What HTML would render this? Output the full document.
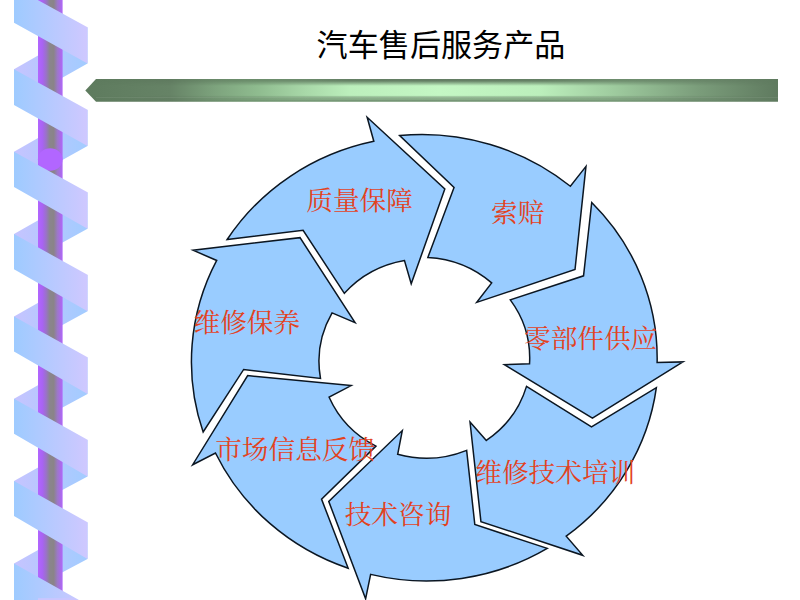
<!DOCTYPE html>
<html lang="zh"><head><meta charset="utf-8"><title>汽车售后服务产品</title>
<style>
html,body{margin:0;padding:0;background:#fff}
body{width:800px;height:600px;position:relative;overflow:hidden;font-family:"Liberation Sans",sans-serif}
.t{position:absolute;white-space:nowrap;color:#e2431f;line-height:1;font-family:"Liberation Serif","Noto Serif CJK SC",serif}
</style></head><body>
<svg width="800" height="600" viewBox="0 0 800 600" style="position:absolute;left:0;top:0">
<defs>
<linearGradient id="gf" x1="14" x2="87.5" y1="0" y2="0" gradientUnits="userSpaceOnUse"><stop offset="0" stop-color="#9ecbff"/><stop offset="1" stop-color="#cfc8ff"/></linearGradient>
<linearGradient id="gb" x1="14" x2="87.5" y1="0" y2="0" gradientUnits="userSpaceOnUse"><stop offset="0" stop-color="#c6c4ff"/><stop offset="1" stop-color="#a2ccff"/></linearGradient>
<linearGradient id="gp" x1="38" x2="62.6" y1="0" y2="0" gradientUnits="userSpaceOnUse"><stop offset="0" stop-color="#b266ff"/><stop offset="0.18" stop-color="#a963f3"/><stop offset="0.33" stop-color="#9a72c8"/><stop offset="0.48" stop-color="#8a858c"/><stop offset="0.64" stop-color="#8a8488"/><stop offset="0.79" stop-color="#9c78c8"/><stop offset="0.91" stop-color="#a96ae8"/><stop offset="1" stop-color="#b068f8"/></linearGradient>
<linearGradient id="gg" x1="85.5" x2="778" y1="0" y2="0" gradientUnits="userSpaceOnUse"><stop offset="0.0000" stop-color="#5e7b5e"/><stop offset="0.1220" stop-color="#668366"/><stop offset="0.1870" stop-color="#7da37d"/><stop offset="0.2520" stop-color="#90bd90"/><stop offset="0.3170" stop-color="#a8d8a8"/><stop offset="0.3819" stop-color="#bcefbc"/><stop offset="0.5119" stop-color="#c4f7c4"/><stop offset="0.6563" stop-color="#bcefbc"/><stop offset="0.7574" stop-color="#a0cda0"/><stop offset="0.8874" stop-color="#7a9c7a"/><stop offset="1.0000" stop-color="#5f7a5f"/></linearGradient>
<linearGradient id="gv" x1="0" x2="0" y1="79.1" y2="101.7" gradientUnits="userSpaceOnUse"><stop offset="0" stop-color="#000" stop-opacity="0.5"/><stop offset="0.08" stop-color="#000" stop-opacity="0.48"/><stop offset="0.30" stop-color="#000" stop-opacity="0"/><stop offset="0.72" stop-color="#000" stop-opacity="0"/><stop offset="0.80" stop-color="#000" stop-opacity="0.27"/><stop offset="0.90" stop-color="#000" stop-opacity="0.30"/><stop offset="0.97" stop-color="#000" stop-opacity="0.44"/><stop offset="1" stop-color="#000" stop-opacity="0.38"/></linearGradient>
<linearGradient id="gm" x1="85.5" x2="778" y1="0" y2="0" gradientUnits="userSpaceOnUse"><stop offset="0" stop-color="#000"/><stop offset="0.12" stop-color="#1c1c1c"/><stop offset="0.25" stop-color="#808080"/><stop offset="0.38" stop-color="#f0f0f0"/><stop offset="0.5" stop-color="#fff"/><stop offset="0.66" stop-color="#f0f0f0"/><stop offset="0.76" stop-color="#a0a0a0"/><stop offset="0.89" stop-color="#444"/><stop offset="1" stop-color="#000"/></linearGradient>
<mask id="bm" maskUnits="userSpaceOnUse" x="80" y="75" width="705" height="30"><rect x="80" y="75" width="705" height="30" fill="url(#gm)"/></mask>
</defs>
<path d="M87.5 -55.2 L87.5 -19.1 L14.0 22.7 L14.0 -13.0 Z M87.5 27.3 L87.5 63.5 L14.0 104.9 L14.0 69.3 Z M87.5 109.8 L87.5 146.1 L14.0 187.1 L14.0 151.7 Z M87.5 192.3 L87.5 228.7 L14.0 269.3 L14.0 234.0 Z M87.5 274.8 L87.5 311.3 L14.0 351.5 L14.0 316.4 Z M87.5 357.3 L87.5 393.9 L14.0 433.7 L14.0 398.8 Z M87.5 439.8 L87.5 476.5 L14.0 515.9 L14.0 481.1 Z M87.5 522.3 L87.5 559.1 L14.0 598.1 L14.0 563.4 Z M87.5 604.8 L87.5 650.0 L14.0 680.3 L14.0 645.8 Z" fill="url(#gb)"/>
<rect x="38" y="0" width="24.6" height="600" fill="url(#gp)"/>
<ellipse cx="50.2" cy="159.5" rx="12.3" ry="11.3" fill="#b266ff"/>
<path d="M14.0 -95.3 L87.5 -55.2 L87.5 -19.1 L14.0 -59.5 Z M14.0 -13.0 L87.5 27.3 L87.5 63.5 L14.0 22.7 Z M14.0 69.3 L87.5 109.8 L87.5 146.1 L14.0 104.9 Z M14.0 151.7 L87.5 192.3 L87.5 228.7 L14.0 187.1 Z M14.0 234.0 L87.5 274.8 L87.5 311.3 L14.0 269.3 Z M14.0 316.4 L87.5 357.3 L87.5 393.9 L14.0 351.5 Z M14.0 398.8 L87.5 439.8 L87.5 476.5 L14.0 433.7 Z M14.0 481.1 L87.5 522.3 L87.5 559.1 L14.0 515.9 Z M14.0 563.4 L87.5 604.8 L87.5 650.0 L14.0 606.0 Z" fill="url(#gf)"/>
<rect x="38" y="598.2" width="37" height="2" fill="#cbc6ff"/>
<path d="M85.3 90.4 L96 79.1 L778 79.1 L778 101.7 L96 101.7 Z" fill="url(#gg)"/>
<path d="M85.3 90.4 L96 79.1 L778 79.1 L778 101.7 L96 101.7 Z" fill="url(#gv)" mask="url(#bm)"/>
<path d="M96 97.6 L778 97.6" stroke="#fff" stroke-opacity="0.10" stroke-width="0.8" fill="none"/>
<path d="M227.15 239.53 A232.16 223.51 0 0 1 373.81 141.28 L367.15 117.25 L444.82 189.06 L411.21 283.80 L404.48 260.51 A104.47 100.58 0 0 0 344.36 293.30 L303.11 230.25 Z" fill="#99ccff" stroke="#0b1622" stroke-width="1.5" stroke-linejoin="miter" stroke-miterlimit="10"/>
<path d="M399.67 135.48 A232.16 223.51 0 0 1 570.39 186.26 L585.96 166.41 L575.02 269.52 L476.76 302.37 L491.68 282.93 A104.47 100.58 0 0 0 427.83 257.51 L454.04 187.40 Z" fill="#99ccff" stroke="#0b1622" stroke-width="1.5" stroke-linejoin="miter" stroke-miterlimit="10"/>
<path d="M591.72 202.52 A232.16 223.51 0 0 1 657.12 362.60 L682.95 361.91 L592.44 418.07 L504.45 364.71 L529.54 363.78 A104.47 100.58 0 0 0 510.29 299.89 L583.54 275.82 Z" fill="#99ccff" stroke="#0b1622" stroke-width="1.5" stroke-linejoin="miter" stroke-miterlimit="10"/>
<path d="M656.36 387.68 A232.16 223.51 0 0 1 566.22 536.21 L582.77 555.32 L480.93 521.62 L470.03 422.06 L486.31 440.46 A104.47 100.58 0 0 0 526.52 386.37 L591.49 426.86 Z" fill="#99ccff" stroke="#0b1622" stroke-width="1.5" stroke-linejoin="miter" stroke-miterlimit="10"/>
<path d="M547.25 548.40 A232.16 223.51 0 0 1 370.63 574.38 L365.61 598.79 L328.74 501.39 L402.28 430.58 L397.67 454.34 A104.47 100.58 0 0 0 466.64 450.41 L474.81 524.51 Z" fill="#99ccff" stroke="#0b1622" stroke-width="1.5" stroke-linejoin="miter" stroke-miterlimit="10"/>
<path d="M348.16 568.24 A232.16 223.51 0 0 1 215.48 453.03 L192.68 464.73 L247.67 375.62 L351.16 385.61 L329.13 397.21 A104.47 100.58 0 0 0 375.95 446.13 L321.53 499.12 Z" fill="#99ccff" stroke="#0b1622" stroke-width="1.5" stroke-linejoin="miter" stroke-miterlimit="10"/>
<path d="M203.15 431.99 A232.16 223.51 0 0 1 216.70 260.47 L193.13 250.26 L300.02 237.66 L355.07 322.59 L332.07 312.90 A104.47 100.58 0 0 0 320.49 378.48 L243.67 369.44 Z" fill="#99ccff" stroke="#0b1622" stroke-width="1.5" stroke-linejoin="miter" stroke-miterlimit="10"/>
</svg>
<div class="t" style="left:316.6px;top:30px;font-size:31.1px;width:260px;color:#000;font-family:'Liberation Sans','Noto Sans CJK SC',sans-serif">汽车售后服务产品</div>
<div class="t" style="left:306.3px;top:188.0px;font-size:26.67px">质量保障</div>
<div class="t" style="left:491.0px;top:199.6px;font-size:26.67px">索赔</div>
<div class="t" style="left:524.0px;top:325.5px;font-size:26.67px">零部件供应</div>
<div class="t" style="left:475.3px;top:459.5px;font-size:26.67px">维修技术培训</div>
<div class="t" style="left:344.7px;top:502.0px;font-size:26.67px">技术咨询</div>
<div class="t" style="left:215.2px;top:436.7px;font-size:26.67px">市场信息反馈</div>
<div class="t" style="left:193.5px;top:310.3px;font-size:26.67px">维修保养</div>
</body></html>
